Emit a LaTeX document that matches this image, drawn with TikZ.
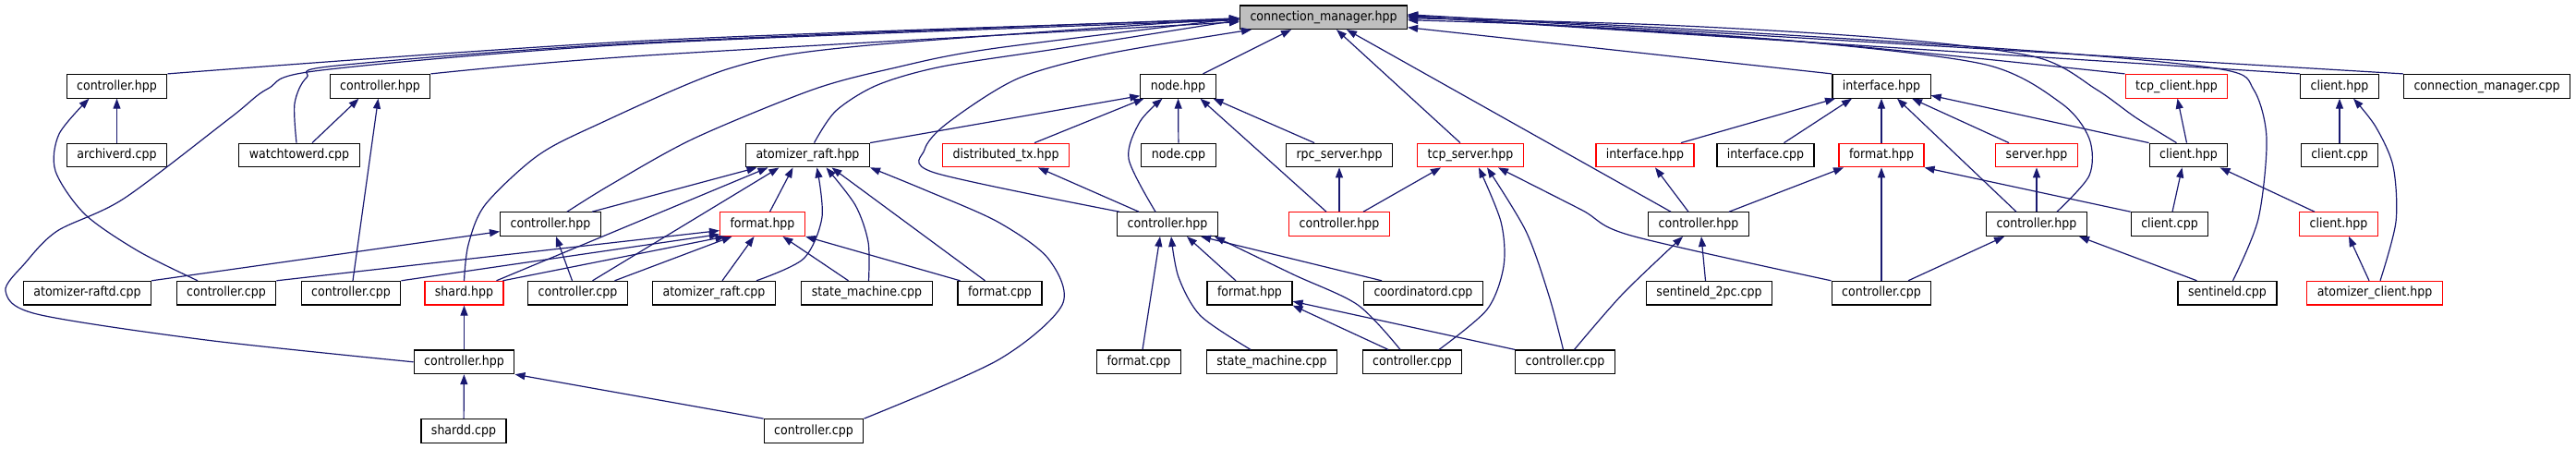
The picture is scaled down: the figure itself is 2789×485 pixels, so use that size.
\documentclass[tikz,border=0pt]{standalone}
\usepackage{fontspec}
\newfontfamily\graphfont{DejaVu Sans Condensed}
\usetikzlibrary{arrows.meta}
\definecolor{edgeblue}{HTML}{191970}
\definecolor{cmgray}{HTML}{BFBFBF}
\begin{document}
\begin{tikzpicture}[
  x=1pt, y=-1pt,
  every node/.style={font=\graphfont\fontsize{14}{16}\selectfont},
  box/.style={draw=black, line width=1.2pt, fill=white, inner xsep=11pt,
              inner ysep=0pt, minimum height=25.6pt, text height=10.5pt, text depth=3pt},
  redbox/.style={box, draw=red},
  dep/.style={draw=edgeblue, line width=1.2pt, -{Triangle[length=11pt,width=8pt]}},
]
\useasboundingbox (0,0) rectangle (2789,485);

% row 1
\node[box, fill=cmgray] (cm) at (1433,18.7) {connection\_manager.hpp};
% row 2
\node[box] (ctlA) at (126.5,93.3) {controller.hpp};
\node[box] (ctlW) at (411.5,93.3) {controller.hpp};
\node[box] (nodeh) at (1275.5,93.3) {node.hpp};
\node[box] (ifh) at (2037,93.3) {interface.hpp};
\node[redbox] (tcpc) at (2356.5,93.3) {tcp\_client.hpp};
\node[box] (clh) at (2533,93.3) {client.hpp};
\node[box] (cmcpp) at (2692.5,93.3) {connection\_manager.cpp};
% row 3
\node[box] (archd) at (126.5,168) {archiverd.cpp};
\node[box] (watchd) at (324,168) {watchtowerd.cpp};
\node[box] (arh) at (874.5,168) {atomizer\_raft.hpp};
\node[redbox] (dtx) at (1089,168) {distributed\_tx.hpp};
\node[box] (nodec) at (1276,168) {node.cpp};
\node[box] (rpcs) at (1450,168) {rpc\_server.hpp};
\node[redbox] (tcps) at (1592,168) {tcp\_server.hpp};
\node[redbox] (ifr) at (1781,168) {interface.hpp};
\node[box] (ifc) at (1911.5,168) {interface.cpp};
\node[redbox] (fmtr) at (2037,168) {format.hpp};
\node[redbox] (srv) at (2205,168) {server.hpp};
\node[box] (clh2) at (2369.5,168) {client.hpp};
\node[box] (clc) at (2533,168) {client.cpp};
% row 4
\node[box] (ctlB) at (596,242.6) {controller.hpp};
\node[redbox] (fmtA) at (825.5,242.6) {format.hpp};
\node[box] (ctlC) at (1264,242.6) {controller.hpp};
\node[redbox] (ctlD) at (1450,242.6) {controller.hpp};
\node[box] (ctlE) at (1839,242.6) {controller.hpp};
\node[box] (ctlF) at (2205,242.6) {controller.hpp};
\node[box] (clc2) at (2349,242.6) {client.cpp};
\node[redbox] (clr) at (2532,242.6) {client.hpp};
% row 5
\node[box] (arcpp) at (94.5,317.2) {atomizer-raftd.cpp};
\node[box] (ctcA) at (245,317.2) {controller.cpp};
\node[box] (ctcW) at (380,317.2) {controller.cpp};
\node[redbox] (shardh) at (502.5,317.2) {shard.hpp};
\node[box] (ctcB) at (625.5,317.2) {controller.cpp};
\node[box] (arc) at (773,317.2) {atomizer\_raft.cpp};
\node[box] (smc) at (938.5,317.2) {state\_machine.cpp};
\node[box] (fmtc) at (1082.5,317.2) {format.cpp};
\node[box] (fmtC) at (1353,317.2) {format.hpp};
\node[box] (coord) at (1541,317.2) {coordinatord.cpp};
\node[box] (s2pc) at (1850.5,317.2) {sentineld\_2pc.cpp};
\node[box] (ctcE) at (2037,317.2) {controller.cpp};
\node[box] (sentd) at (2411.5,317.2) {sentineld.cpp};
\node[redbox] (acl) at (2571,317.2) {atomizer\_client.hpp};
% row 6
\node[box] (ctlG) at (502.5,391.8) {controller.hpp};
\node[box] (fmtc2) at (1233,391.8) {format.cpp};
\node[box] (smc2) at (1377,391.8) {state\_machine.cpp};
\node[box] (ctcC1) at (1529,391.8) {controller.cpp};
\node[box] (ctcC2) at (1694.5,391.8) {controller.cpp};
% row 7
\node[box] (shardd) at (502,466.5) {shardd.cpp};
\node[box] (ctcG) at (881,466.5) {controller.cpp};

% into connection_manager.hpp
\draw[dep] plot[smooth] coordinates {(ctlA.north east) (700,44) ([yshift=-2pt]cm.west)};
\draw[dep] plot[smooth] coordinates {([xshift=-3pt]watchd.north) (319,112) (332,84) (365,71) (700,46) ([yshift=-1pt]cm.west)};
\draw[dep] plot[smooth] coordinates {(ctlW.north east) (700,60) ([yshift=-5pt]cm.west)};
\draw[dep] plot[smooth] coordinates {(ctlG.west) (223,368) (40,340) (6,315) (27,285) (62,250) (134,215) (250,127) (290,96) (348,76) (700,47) ([yshift=-3pt]cm.west)};
\draw[dep] plot[smooth] coordinates {(shardh.north) (507,265) (525,222) (580,170) (640,138) (790,74) (930,50) ([yshift=-1pt]cm.west)};
\draw[dep] plot[smooth] coordinates {([xshift=18pt]ctlB.north) (661,200) (751,150) (880,97) (966,74) (1072,53) ([yshift=-1pt]cm.west)};
\draw[dep] plot[smooth] coordinates {([xshift=7pt]arh.north) (905,120) (950,92) (1020,72) (1150,52) ([yshift=-3pt]cm.west)};
\draw[dep] plot[smooth] coordinates {([xshift=-52pt]ctlC.north) (1012,187) (1001,162) (1026,133) (1102,85) (1200,58) ([xshift=-78pt]cm.south)};
\draw[dep] ([xshift=27pt]nodeh.north) -- ([xshift=-35pt]cm.south);
\draw[dep] ([xshift=-11pt]tcps.north) -- ([xshift=14pt]cm.south);
\draw[dep] ([xshift=-30pt]ctlE.north) -- ([xshift=25pt]cm.south);
\draw[dep] (ifh.north west) -- ([yshift=-11pt]cm.east);
\draw[dep] plot[smooth] coordinates {([xshift=22pt]ctlF.north) (2262,190) (2262,150) (2232,112) (2150,70) (1950,45) (1700,28) ([yshift=-3pt]cm.east)};
\draw[dep] plot[smooth] coordinates {([xshift=-13pt]clh2.north) (2312,127) (2270,97) (2205,62) (2050,42) (1800,27) ([yshift=-1pt]cm.east)};
\draw[dep] plot[smooth] coordinates {(tcpc.north west) (1950,45) ([yshift=1pt]cm.east)};
\draw[dep] (clh.north west) -- ([yshift=1pt]cm.east);
\draw[dep] plot[smooth] coordinates {([xshift=6pt]sentd.north) (2445,237) (2454,150) (2440,97) (2405,75) (2200,55) (1800,30) ([yshift=2pt]cm.east)};
\draw[dep] (cmcpp.north west) -- ([yshift=3pt]cm.east);

% left part
\draw[dep] (archd) -- (ctlA);
\draw[dep] plot[smooth] coordinates {([xshift=-31pt]ctcA.north) (150,272) (92,232) (60,185) (64,145) ([xshift=-30pt]ctlA.south)};
\draw[dep] ([xshift=14pt]watchd.north) -- ([xshift=-23pt]ctlW.south);
\draw[dep] ([xshift=2pt]ctcW.north) -- ([xshift=-2pt]ctlW.south);
\draw[dep] (arcpp.north east) -- ([yshift=-8pt]ctlB.west);
\draw[dep] (ctcA.north east) -- ([yshift=-7pt]fmtA.west);
\draw[dep] (ctcW.north east) -- ([yshift=-11pt]fmtA.west);
\draw[dep] ([xshift=35pt]shardh.north) -- ([xshift=-43pt]arh.south);
\draw[dep] ([xshift=42pt]shardh.north) -- ([xshift=-40pt]fmtA.south);
\draw[dep] ([xshift=-6pt]ctcB.north) -- ([xshift=6pt]ctlB.south);
\draw[dep] ([xshift=16pt]ctcB.north) -- ([xshift=-31pt]arh.south);
\draw[dep] ([xshift=40pt]ctcB.north) -- ([xshift=-33pt]fmtA.south);
\draw[dep] ([xshift=45pt]ctlB.north) -- ([xshift=-55pt]arh.south);
\draw[dep] ([xshift=8pt]fmtA.north) -- ([xshift=-16pt]arh.south);
\draw[dep] ([xshift=9pt]arc.north) -- ([xshift=-9pt]fmtA.south);
\draw[dep] plot[smooth] coordinates {([xshift=46pt]arc.north) (870,280) (890,235) ([xshift=10pt]arh.south)};
\draw[dep] ([xshift=-20pt]smc.north) -- ([xshift=22pt]fmtA.south);
\draw[dep] plot[smooth] coordinates {([xshift=2pt]smc.north) (940,262) (926,222) ([xshift=20pt]arh.south)};
\draw[dep] ([xshift=-43pt]fmtc.north) -- (fmtA.south east);
\draw[dep] ([xshift=-16pt]fmtc.north) -- ([xshift=26pt]arh.south);
\draw[dep] plot[smooth] coordinates {(ctcG.north east) (1080,390) (1150,330) (1135,280) (1080,240) (1000,205) (arh.south east)};
\draw[dep] (ctcG.north west) -- (ctlG.south east);
\draw[dep] (shardd) -- (ctlG);
\draw[dep] (ctlG) -- (shardh);

% node.hpp part
\draw[dep] (arh.north east) -- ([yshift=3pt]nodeh.south west);
\draw[dep] ([xshift=31pt]dtx.north) -- ([xshift=-37pt]nodeh.south);
\draw[dep] plot[smooth] coordinates {([xshift=-13pt]ctlC.north) (1222,172) (1234,132) ([xshift=-17pt]nodeh.south)};
\draw[dep] (nodec) -- (nodeh);
\draw[dep] ([xshift=-27pt]rpcs.north) -- ([xshift=38pt]nodeh.south);
\draw[dep] ([xshift=-14pt]ctlD.north) -- ([xshift=24pt]nodeh.south);
\draw[dep] ([xshift=-31pt]ctlC.north) -- ([xshift=35pt]dtx.south);
\draw[dep] (ctlD) -- (rpcs);
\draw[dep] ([xshift=26pt]ctlD.north) -- ([xshift=-32pt]tcps.south);
\draw[dep] ([xshift=4pt]fmtc2.north) -- ([xshift=-8pt]ctlC.south);
\draw[dep] plot[smooth] coordinates {([xshift=-23pt]smc2.north) (1300,342) (1276,300) ([xshift=4pt]ctlC.south)};
\draw[dep] ([xshift=-15pt]fmtC.north) -- ([xshift=21pt]ctlC.south);
\draw[dep] ([xshift=-45pt]coord.north) -- ([xshift=36pt]ctlC.south);
\draw[dep] plot[smooth] coordinates {([xshift=-13pt]ctcC1.north) (1470,330) (1400,297) ([xshift=51pt]ctlC.south)};
\draw[dep] ([xshift=-26pt]ctcC1.north) -- (fmtC.south east);
\draw[dep] (ctcC2.north west) -- ([yshift=-9pt]fmtC.east);
\draw[dep] plot[smooth] coordinates {([xshift=29pt]ctcC1.north) (1610,335) (1628,288) (1625,240) ([xshift=9pt]tcps.south)};
\draw[dep] plot[smooth] coordinates {([xshift=-2pt]ctcC2.north) (1677,320) (1652,250) ([xshift=18pt]tcps.south)};
\draw[dep] plot[smooth] coordinates {([xshift=10pt]ctcC2.north) (1757,318) ([xshift=-17pt]ctlE.south)};

% interface / client part
\draw[dep] plot[smooth] coordinates {(ctcE.north west) (1766,255) (1712,227) ([xshift=30pt]tcps.south)};
\draw[dep] (ctcE) -- (fmtr);
\draw[dep] ([xshift=29pt]ctcE.north) -- ([xshift=-35pt]ctlF.south);
\draw[dep] ([xshift=-4pt]s2pc.north) -- ([xshift=3pt]ctlE.south);
\draw[dep] ([xshift=-11pt]ctlE.north) -- ([xshift=11pt]ifr.south);
\draw[dep] ([xshift=33pt]ctlE.north) -- ([xshift=-41pt]fmtr.south);
\draw[dep] (ctlF) -- (srv);
\draw[dep] ([xshift=-22pt]ctlF.north) -- ([xshift=17pt]ifh.south);
\draw[dep] ([xshift=-30pt]srv.north) -- ([xshift=33pt]ifh.south);
\draw[dep] (fmtr) -- (ifh);
\draw[dep] ([xshift=20pt]ifc.north) -- ([xshift=-32pt]ifh.south);
\draw[dep] ([xshift=39pt]ifr.north) -- ([xshift=-50pt]ifh.south);
\draw[dep] (clh2.north west) -- ([yshift=-10pt]ifh.east);
\draw[dep] ([xshift=-2pt]clh2.north) -- ([xshift=1pt]tcpc.south);
\draw[dep] (clc) -- (clh);
\draw[dep] (clc2.north west) -- (fmtr.south east);
\draw[dep] ([xshift=3pt]clc2.north) -- ([xshift=-7pt]clh2.south);
\draw[dep] ([xshift=-26pt]clr.north) -- ([xshift=34pt]clh2.south);
\draw[dep] ([xshift=-6pt]acl.north) -- ([xshift=11pt]clr.south);
\draw[dep] plot[smooth] coordinates {([xshift=6pt]acl.north) (2594,240) (2591,180) (2572,137) ([xshift=15pt]clh.south)};
\draw[dep] ([xshift=-33pt]sentd.north) -- ([xshift=46pt]ctlF.south);
\end{tikzpicture}
\end{document}
